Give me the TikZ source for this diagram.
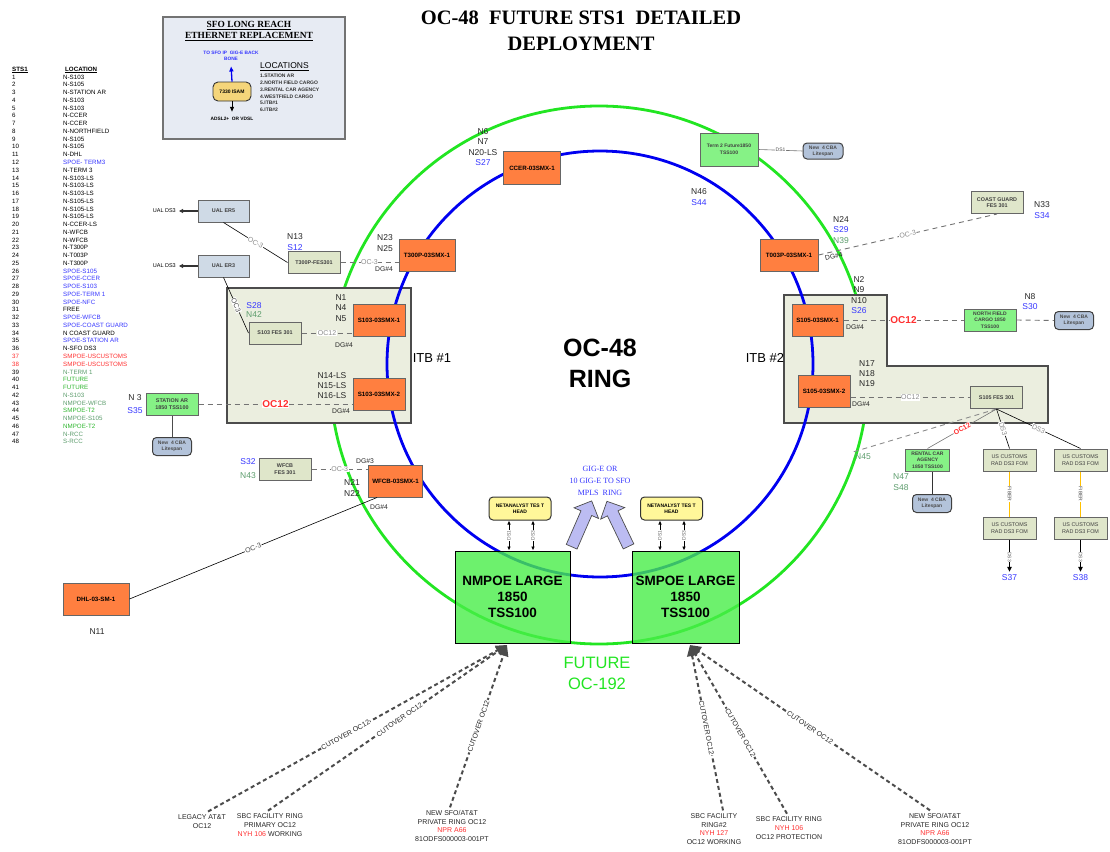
\documentclass[tikz,border=0pt]{standalone}
\usepackage{fontspec}
\setmainfont{Liberation Sans}
\newfontfamily\serifbold{Liberation Serif}
\usetikzlibrary{arrows.meta,shapes.arrows}

\definecolor{smxorange}{HTML}{FF7F40}
\definecolor{fesgreen}{HTML}{DFE6CA}
\definecolor{tssgreen}{HTML}{86F286}
\definecolor{mpoegreen}{HTML}{48EE48}
\definecolor{cbablue}{HTML}{B3C3DA}
\definecolor{ualblue}{HTML}{CFDAE6}
\definecolor{itbfill}{HTML}{EBEEDF}
\definecolor{insetfill}{HTML}{E7EBF3}
\definecolor{isamyellow}{HTML}{F5D57A}
\definecolor{tesyellow}{HTML}{FFF79A}
\definecolor{gigfill}{HTML}{BCBCF2}
\definecolor{ringblue}{HTML}{0000F0}
\definecolor{ringgreen}{HTML}{22E522}
\definecolor{tabblue}{HTML}{3535FF}
\definecolor{tabred}{HTML}{FF3030}
\definecolor{tabgreen}{HTML}{2DB52D}
\definecolor{graygreen}{HTML}{5C9C6C}
\definecolor{fibre}{HTML}{FFC000}

\begin{document}
\begin{tikzpicture}[x=1pt,y=-1pt,
  box/.style={draw=black!60, line width=1pt, align=center, inner sep=0.5pt},
  smx/.style={box, fill=smxorange, minimum width=56, minimum height=32, font=\bfseries\fontsize{6.2}{7}\selectfont},
  fes/.style={box, fill=fesgreen, minimum width=52, minimum height=22, font=\bfseries\fontsize{5.4}{6.5}\selectfont, text=black!75},
  tss/.style={box, fill=tssgreen, minimum width=52, minimum height=22, font=\bfseries\fontsize{5.4}{6.5}\selectfont, text=black!75},
  cba/.style={box, draw=black!75, rounded corners=4pt, fill=cbablue, minimum width=39, minimum height=18, font=\bfseries\fontsize{5}{6.2}\selectfont, text=black!70},
  ual/.style={box, fill=ualblue, minimum width=51, minimum height=22, font=\bfseries\fontsize{5.4}{6.5}\selectfont, text=black!75},
  tesbox/.style={box, draw=black!80, rounded corners=4pt, fill=tesyellow, minimum width=62, minimum height=23, font=\bfseries\fontsize{5}{6.2}\selectfont},
  mpoe/.style={draw=black, line width=1pt, fill=mpoegreen, fill opacity=0.8, text opacity=1, minimum height=92, align=center, font=\bfseries\fontsize{13.5}{16}\selectfont},
  tag/.style={font=\fontsize{8.5}{10.3}\selectfont, text=black!85, align=center, inner sep=0pt},
  dg/.style={font=\fontsize{6.8}{8}\selectfont, text=black!85, inner sep=0pt},
  tab/.style={font=\fontsize{6.2}{7}\selectfont, anchor=west, inner sep=0pt},
  foot/.style={font=\fontsize{7}{8.6}\selectfont, align=center, text=black!85, inner sep=0pt},
  link/.style={draw=black!55, line width=0.9pt, dash pattern=on 5pt off 4pt},
  wire/.style={draw=black, line width=0.6pt},
  oc/.style={fill=white, text=black!45, font=\fontsize{7}{8}\selectfont, inner sep=0.6pt},
  ocred/.style={fill=white, text=tabred, font=\bfseries\fontsize{10}{11}\selectfont, inner sep=0.6pt},
  dslbl/.style={sloped, fill=white, text=black!60, font=\fontsize{5}{6}\selectfont, inner sep=0.4pt},
  dsarrow/.style={draw=black, line width=0.7pt, {Latex[length=4pt,width=3.5pt]}-{Latex[length=4pt,width=3.5pt]}},
  cutover/.style={draw=black!70, line width=2pt, dash pattern=on 4pt off 3pt, -{Triangle[length=11pt,width=10pt]}},
  cutlbl/.style={sloped, fill=white, font=\fontsize{7}{8}\selectfont, text=black!85, inner sep=0.6pt},
  gigarrow/.style={single arrow, draw=black!70, fill=gigfill, line width=0.7pt, minimum height=50, inner xsep=0pt, inner ysep=5.5pt, single arrow head extend=7.5pt},
]
\useasboundingbox (0,0) rectangle (1110,851);

% title
\node[font=\serifbold\bfseries\fontsize{20.5}{26}\selectfont, align=center] (title) at (581,31) {OC-48\ \ FUTURE STS1\ \ DETAILED\\DEPLOYMENT};

% STS1 allocation table
\node[tab, font=\bfseries\fontsize{6.2}{7}\selectfont] (hdsts) at (12,70) {\underline{STS1}};
\node[tab, font=\bfseries\fontsize{6.2}{7}\selectfont] (hdloc) at (65,70) {\underline{LOCATION}};
\foreach \i/\loc/\col in {1/N-S103/black, 2/N-S105/black, 3/N-STATION AR/black, 4/N-S103/black,
  5/N-S103/black, 6/N-CCER/black, 7/N-CCER/black, 8/N-NORTHFIELD/black, 9/N-S105/black,
  10/N-S105/black, 11/N-DHL/black, 12/SPOE- TERM3/tabblue, 13/N-TERM 3/black,
  14/N-S103-LS/black, 15/N-S103-LS/black, 16/N-S103-LS/black, 17/N-S105-LS/black,
  18/N-S105-LS/black, 19/N-S105-LS/black, 20/N-CCER-LS/black, 21/N-WFCB/black,
  22/N-WFCB/black, 23/N-T300P/black, 24/N-T003P/black, 25/N-T300P/black,
  26/SPOE-S105/tabblue, 27/SPOE-CCER/tabblue, 28/SPOE-S103/tabblue, 29/SPOE-TERM 1/tabblue,
  30/SPOE-NFC/tabblue, 31/FREE/black, 32/SPOE-WFCB/tabblue, 33/SPOE-COAST GUARD/tabblue,
  34/N COAST GUARD/black, 35/SPOE-STATION AR/tabblue, 36/N-SFO DS3/black,
  37/SMPOE-USCUSTOMS/tabred, 38/SMPOE-USCUSTOMS/tabred, 39/N-TERM 1/graygreen,
  40/FUTURE/tabgreen, 41/FUTURE/tabgreen, 42/N-S103/graygreen, 43/NMPOE-WFCB/graygreen,
  44/SMPOE-T2/tabgreen, 45/NMPOE-S105/graygreen, 46/NMPOE-T2/tabgreen, 47/N-RCC/graygreen,
  48/S-RCC/graygreen} {
  \node[tab] (num\i) at (12,{77+7.76*(\i-1)}) {\ifnum\i>36 \ifnum\i<39 \color{tabred}\fi\fi\i};
  \node[tab, text=\col] (loc\i) at (63,{77+7.76*(\i-1)}) {\loc};
}

% long reach inset
\node[draw=black!55, line width=1.2pt, fill=insetfill, minimum width=182, minimum height=122, inner sep=0pt] (inset) at (254,78) {};
\node[font=\serifbold\bfseries\fontsize{9.4}{11}\selectfont, align=center] (insettitle) at (249,31) {\underline{SFO LONG REACH}\\\underline{ETHERNET REPLACEMENT}};
\node[rounded corners=5pt, draw=black!80, line width=0.9pt, fill=isamyellow, minimum width=38, minimum height=19, font=\bfseries\fontsize{5}{6}\selectfont] (isam) at (232,91.5) {7330 ISAM};
\node[font=\bfseries\fontsize{4.8}{6.5}\selectfont, text=tabblue, align=center] (backbone) at (231,56) {TO SFO IP\ \ GIG-E BACK\\BONE};
\node[font=\bfseries\fontsize{4.8}{6}\selectfont] (adsl) at (232,119) {ADSL2+\ \ OR VDSL};
\draw[-{Triangle[length=5pt,width=4pt]}, ringblue, line width=1.3pt, shorten >=2pt] (isam.north) -- (backbone.south);
\draw[-{Triangle[length=5pt,width=4pt]}, black, line width=1pt, shorten >=2pt] (isam.south) -- (adsl.north);
\node[anchor=west, font=\fontsize{8.5}{10}\selectfont, inner sep=0pt] (loctitle) at (260,67) {\underline{LOCATIONS}};
\node[anchor=north west, font=\bfseries\fontsize{5}{6.8}\selectfont, align=left, inner sep=0pt, text=black!80] (loclist) at (260,74) {1.STATION AR\\2.NORTH FIELD CARGO\\3.RENTAL CAR AGENCY\\4.WESTFIELD CARGO\\5.ITB\#1\\6.ITB\#2};

% rings and terminal buildings
\draw[ringgreen, line width=2.8pt] (599,375) circle[radius=269];
\draw[draw=black!70, line width=1.3pt, fill=itbfill] (227,288) rectangle (411,423);
\draw[draw=black!70, line width=1.3pt, fill=itbfill] (784,295) -- (887,295) -- (887,366) -- (1048,366) -- (1048,423) -- (784,423) -- cycle;
\draw[ringblue, line width=2.8pt] (600,364) circle[radius=213];
\node[font=\fontsize{13}{14}\selectfont] (itb1) at (432,358) {ITB \#1};
\node[font=\fontsize{13}{14}\selectfont] (itb2) at (765,358) {ITB \#2};
\node[font=\bfseries\fontsize{25}{31}\selectfont, align=center] (ringname) at (600,363) {OC-48\\RING};
\node[font=\fontsize{16.5}{21}\selectfont, text=ringgreen, align=center] (future) at (597,673) {FUTURE\\OC-192};

% CCER and terminal 2
\node[smx, minimum width=57, minimum height=33] (ccer) at (532,168) {CCER-03SMX-1};
\node[tag] (ccertag) at (483,147) {N6\\N7\\N20-LS\\\textcolor{tabblue}{S27}};
\node[tss, minimum width=58, minimum height=33, font=\bfseries\fontsize{5}{6.5}\selectfont] (term2) at (729,149.5) {Term 2 Future1850\\TSS100};
\node[cba, minimum width=40, minimum height=16] (cbaterm2) at (823,151) {New\ \ 4 CBA\\Litespan};
\draw[wire, black!55] (term2.east) -- node[oc, text=black!70, font=\fontsize{5}{6}\selectfont]{DS1} (cbaterm2.west);
\node[tag] (term2tag) at (699,197) {N46\\\textcolor{tabblue}{S44}};

% T300P
\node[smx] (t300p) at (427,255) {T300P-03SMX-1};
\node[tag] (t300ptag) at (385,243) {N23\\N25};
\node[dg] (t300pdg) at (384,269) {DG\#4};
\node[fes] (fest300p) at (314,262.5) {T300P-FES301};
\node[tag] (fest300ptag) at (295,242) {N13\\\textcolor{tabblue}{S12}};
\node[ual] (er5) at (223.5,211) {UAL ER5};
\node[ual] (er3) at (223.5,266) {UAL ER3};
\node[anchor=east, font=\fontsize{5.5}{6}\selectfont, inner sep=0pt] (ds3er5) at (176,211) {UAL DS3};
\node[anchor=east, font=\fontsize{5.5}{6}\selectfont, inner sep=0pt] (ds3er3) at (176,266) {UAL DS3};
\draw[-{Triangle[length=4pt,width=4pt]}, line width=1.3pt, black!80, shorten >=3pt] (er5.west) -- (ds3er5.east);
\draw[-{Triangle[length=4pt,width=4pt]}, line width=1.3pt, black!80, shorten >=3pt] (er3.west) -- (ds3er3.east);
\draw[wire] (er5.south) -- node[oc, sloped]{OC-3} (fest300p.west);
\draw[link] (fest300p.east) -- node[oc]{OC-3} (fest300p.east -| t300p.west);

% ITB #1
\node[smx, minimum width=52] (s103a) at (379,320) {S103-03SMX-1};
\node[tag] (s103atag) at (341,308) {N1\\N4\\N5};
\node[dg] (s103adg) at (344,345) {DG\#4};
\node[smx, minimum width=52] (s103b) at (379,394) {S103-03SMX-2};
\node[tag] (s103btag) at (332,385.5) {N14-LS\\N15-LS\\N16-LS};
\node[dg] (s103bdg) at (341,411) {DG\#4};
\node[fes] (fes103) at (275,333) {S103 FES 301};
\node[tag, font=\fontsize{8.5}{8.5}\selectfont] (fes103tag) at (254,310) {\textcolor{tabblue}{S28}\\\textcolor{graygreen}{N42}};
\draw[wire] (er3.south) -- node[oc, sloped, text=black!70]{OC3} (fes103.west);
\draw[link] (fes103.east) -- node[oc]{OC12} (fes103.east -| s103a.west);
\node[tss] (stationar) at (172,404) {STATION AR\\1850 TSS100};
\node[tag, font=\fontsize{8.5}{12.5}\selectfont] (stationartag) at (135,404) {N 3\\\textcolor{tabblue}{S35}};
\draw[link] (stationar.east) -- node[ocred]{OC12} (stationar.east -| s103b.west);
\node[cba] (cbastation) at (172,446.5) {New\ \ 4 CBA\\Litespan};
\draw[draw=black!70, line width=1pt] (stationar.south) -- (cbastation.north);

% WFCB and DHL
\node[smx, minimum width=54] (wfcb) at (395.5,481) {WFCB-03SMX-1};
\node[fes] (feswfcb) at (285,469) {WFCB\\FES 301};
\node[tag, font=\fontsize{8.5}{14}\selectfont] (feswfcbtag) at (248,469) {\textcolor{tabblue}{S32}\\\textcolor{graygreen}{N43}};
\node[dg] (wfcbdg3) at (365,461) {DG\#3};
\node[tag] (wfcbtag) at (352,488) {N21\\N22};
\node[dg] (wfcbdg4) at (379,507) {DG\#4};
\draw[link] (feswfcb.east) -- node[oc]{OC-3} (feswfcb.east -| wfcb.west);
\node[smx, minimum width=66] (dhl) at (96,599) {DHL-03-SM-1};
\node[tag] (dhltag) at (97,632) {N11};
\draw[wire] ([xshift=9pt]wfcb.south west) -- node[oc, sloped, text=black!70]{OC-3} (dhl.east);

% T003P and coast guard
\node[smx, minimum width=58] (t003p) at (789,255) {T003P-03SMX-1};
\node[tag] (t003ptag) at (841,230) {N24\\\textcolor{tabblue}{S29}\\\textcolor{graygreen}{N39}};
\node[fes] (coast) at (997,202.5) {COAST GUARD\\FES 301};
\node[tag] (coasttag) at (1042,210) {N33\\\textcolor{tabblue}{S34}};
\draw[link] (t003p.east) -- node[oc, sloped]{OC-3} node[dg, pos=0.08, below=2pt, sloped]{DG\#4} (coast.south);

% ITB #2
\node[smx, minimum width=51] (s105a) at (817.5,320) {S105-03SMX-1};
\node[tag] (s105atag) at (859,295) {N2\\N9\\N10\\\textcolor{tabblue}{S26}};
\node[dg] (s105adg) at (855,327) {DG\#4};
\node[tss, font=\bfseries\fontsize{5}{6.3}\selectfont] (nfc) at (990,320) {NORTH FIELD\\CARGO 1850\\TSS100};
\node[tag] (nfctag) at (1030,301.5) {N8\\\textcolor{tabblue}{S30}};
\node[cba] (cbanfc) at (1074,320.5) {New\ \ 4 CBA\\Litespan};
\draw[link] (s105a.east) -- node[ocred]{OC12} (nfc.west);
\draw[link] (nfc.east) -- (cbanfc.west);
\node[smx, minimum width=52] (s105b) at (824,391) {S105-03SMX-2};
\node[tag] (s105btag) at (867,373.5) {N17\\N18\\N19};
\node[dg] (s105bdg) at (861,404) {DG\#4};
\node[fes] (fes105) at (996.5,397.5) {S105 FES 301};
\draw[link] (s105b.east |- fes105.west) -- node[oc]{OC12} (fes105.west);

% rental car and customs
\coordinate (ringn45) at (853,452);
\node[tag, text=graygreen] (n45) at (863,457) {N45};
\node[tss, minimum width=44, font=\bfseries\fontsize{5}{6.3}\selectfont] (rental) at (927.5,460) {RENTAL CAR\\AGENCY\\1850 TSS100};
\node[tag, text=graygreen] (rentaltag) at (901,482) {N47\\S48};
\node[cba] (cbarental) at (932,503.5) {New\ \ 4 CBA\\Litespan};
\draw[draw=black!80, line width=1pt] (cbarental.north |- rental.south) -- (cbarental.north);
\node[fes, minimum width=53, font=\fontsize{5.4}{6.5}\selectfont] (cust1) at (1009.5,460) {US CUSTOMS\\RAD DS3 FOM};
\node[fes, minimum width=53, font=\fontsize{5.4}{6.5}\selectfont] (cust2) at (1080.5,460) {US CUSTOMS\\RAD DS3 FOM};
\node[fes, minimum width=53, font=\fontsize{5.4}{6.5}\selectfont] (cust3) at (1009.5,528) {US CUSTOMS\\RAD DS3 FOM};
\node[fes, minimum width=53, font=\fontsize{5.4}{6.5}\selectfont] (cust4) at (1080.5,528) {US CUSTOMS\\RAD DS3 FOM};
\draw[link, black!45] (fes105.south) -- (ringn45);
\draw[wire, black!55] (fes105.south) -- node[sloped, fill=white, text=tabred, font=\bfseries\fontsize{7}{8}\selectfont, inner sep=0.5pt]{OC12} (rental.north);
\draw[wire] (fes105.south) -- node[oc, sloped]{DS3} (cust1.north);
\draw[wire] (fes105.south) -- node[oc, sloped]{DS3} (cust2.north);
\draw[fibre, line width=1.3pt] (cust1.south) -- node[dslbl, text=black!70]{FIBER} (cust3.north);
\draw[fibre, line width=1.3pt] (cust2.south) -- node[dslbl, text=black!70]{FIBER} (cust4.north);
\node[tag, text=tabblue] (s37) at (1009.5,578) {S37};
\node[tag, text=tabblue] (s38) at (1080.5,578) {S38};
\draw[wire, line width=1pt, -{Triangle[length=5pt,width=4.5pt]}, shorten >=3pt] (cust3.south) -- node[dslbl]{DS3} (s37.north);
\draw[wire, line width=1pt, -{Triangle[length=5pt,width=4.5pt]}, shorten >=3pt] (cust4.south) -- node[dslbl]{DS3} (s38.north);

% mpoe sites and test heads
\node[mpoe, minimum width=115] (nmpoe) at (512.5,597) {NMPOE LARGE\\1850\\TSS100};
\node[mpoe, minimum width=107] (smpoe) at (685.5,597) {SMPOE LARGE\\1850\\TSS100};
\node[tesbox] (tesl) at (520,508.5) {NETANALYST TES T\\HEAD};
\node[tesbox] (tesr) at (671.5,508.5) {NETANALYST TES T\\HEAD};
\draw[dsarrow] ([xshift=-11pt]tesl.south |- nmpoe.north) -- node[dslbl]{DS1} ([xshift=-11pt]tesl.south);
\draw[dsarrow] ([xshift=13pt]tesl.south |- nmpoe.north) -- node[dslbl]{DS3} ([xshift=13pt]tesl.south);
\draw[dsarrow] ([xshift=-11.5pt]tesr.south |- smpoe.north) -- node[dslbl]{DS1} ([xshift=-11.5pt]tesr.south);
\draw[dsarrow] ([xshift=12.5pt]tesr.south |- smpoe.north) -- node[dslbl]{DS3} ([xshift=12.5pt]tesr.south);
\node[font=\serifbold\fontsize{8}{12}\selectfont, text=tabblue, align=center] (gig) at (600,481) {GIG-E OR\\10 GIG-E TO SFO\\MPLS\ \ RING};
\node[gigarrow, rotate=66.4] (gigl) at (580.5,526.5) {};
\node[gigarrow, rotate=115.6] (gigr) at (619,526.5) {};

% cutover feeds
\coordinate (nmin) at (507,645);
\coordinate (smin) at (690,645);
\node[foot] (legacy) at (202,821.5) {LEGACY AT\&T\\OC12};
\node[foot] (sbcprim) at (270,825) {SBC FACILITY RING\\PRIMARY OC12\\\textcolor{tabred}{NYH 106} WORKING};
\node[foot] (newleft) at (452,826) {NEW SFO/AT\&T\\PRIVATE RING OC12\\\textcolor{tabred}{NPR A66}\\81ODFS000003-001PT};
\node[foot] (sbcring2) at (714,829) {SBC FACILITY\\RING\#2\\\textcolor{tabred}{NYH 127}\\OC12 WORKING};
\node[foot] (sbcprot) at (789,828) {SBC FACILITY RING\\\textcolor{tabred}{NYH 106}\\OC12 PROTECTION};
\node[foot] (newright) at (935,829) {NEW SFO/AT\&T\\PRIVATE RING OC12\\\textcolor{tabred}{NPR A66}\\81ODFS000003-001PT};
\draw[cutover] ([xshift=6pt,yshift=3pt]legacy.north) -- node[cutlbl, pos=0.46]{CUTOVER OC12} (nmin);
\draw[cutover] ([xshift=-2pt,yshift=3pt]sbcprim.north) -- node[cutlbl, pos=0.55]{CUTOVER OC12} (nmin);
\draw[cutover] ([xshift=-2pt,yshift=3pt]newleft.north) -- node[cutlbl]{CUTOVER OC12} (nmin);
\draw[cutover] ([xshift=9pt,yshift=3pt]sbcring2.north) -- node[cutlbl]{CUTOVER OC12} (smin);
\draw[cutover] ([xshift=-2pt,yshift=3pt]sbcprot.north) -- node[cutlbl, pos=0.48]{CUTOVER OC12} (smin);
\draw[cutover] ([xshift=-5pt,yshift=3pt]newright.north) -- node[cutlbl]{CUTOVER OC12} (smin);
\end{tikzpicture}
\end{document}
